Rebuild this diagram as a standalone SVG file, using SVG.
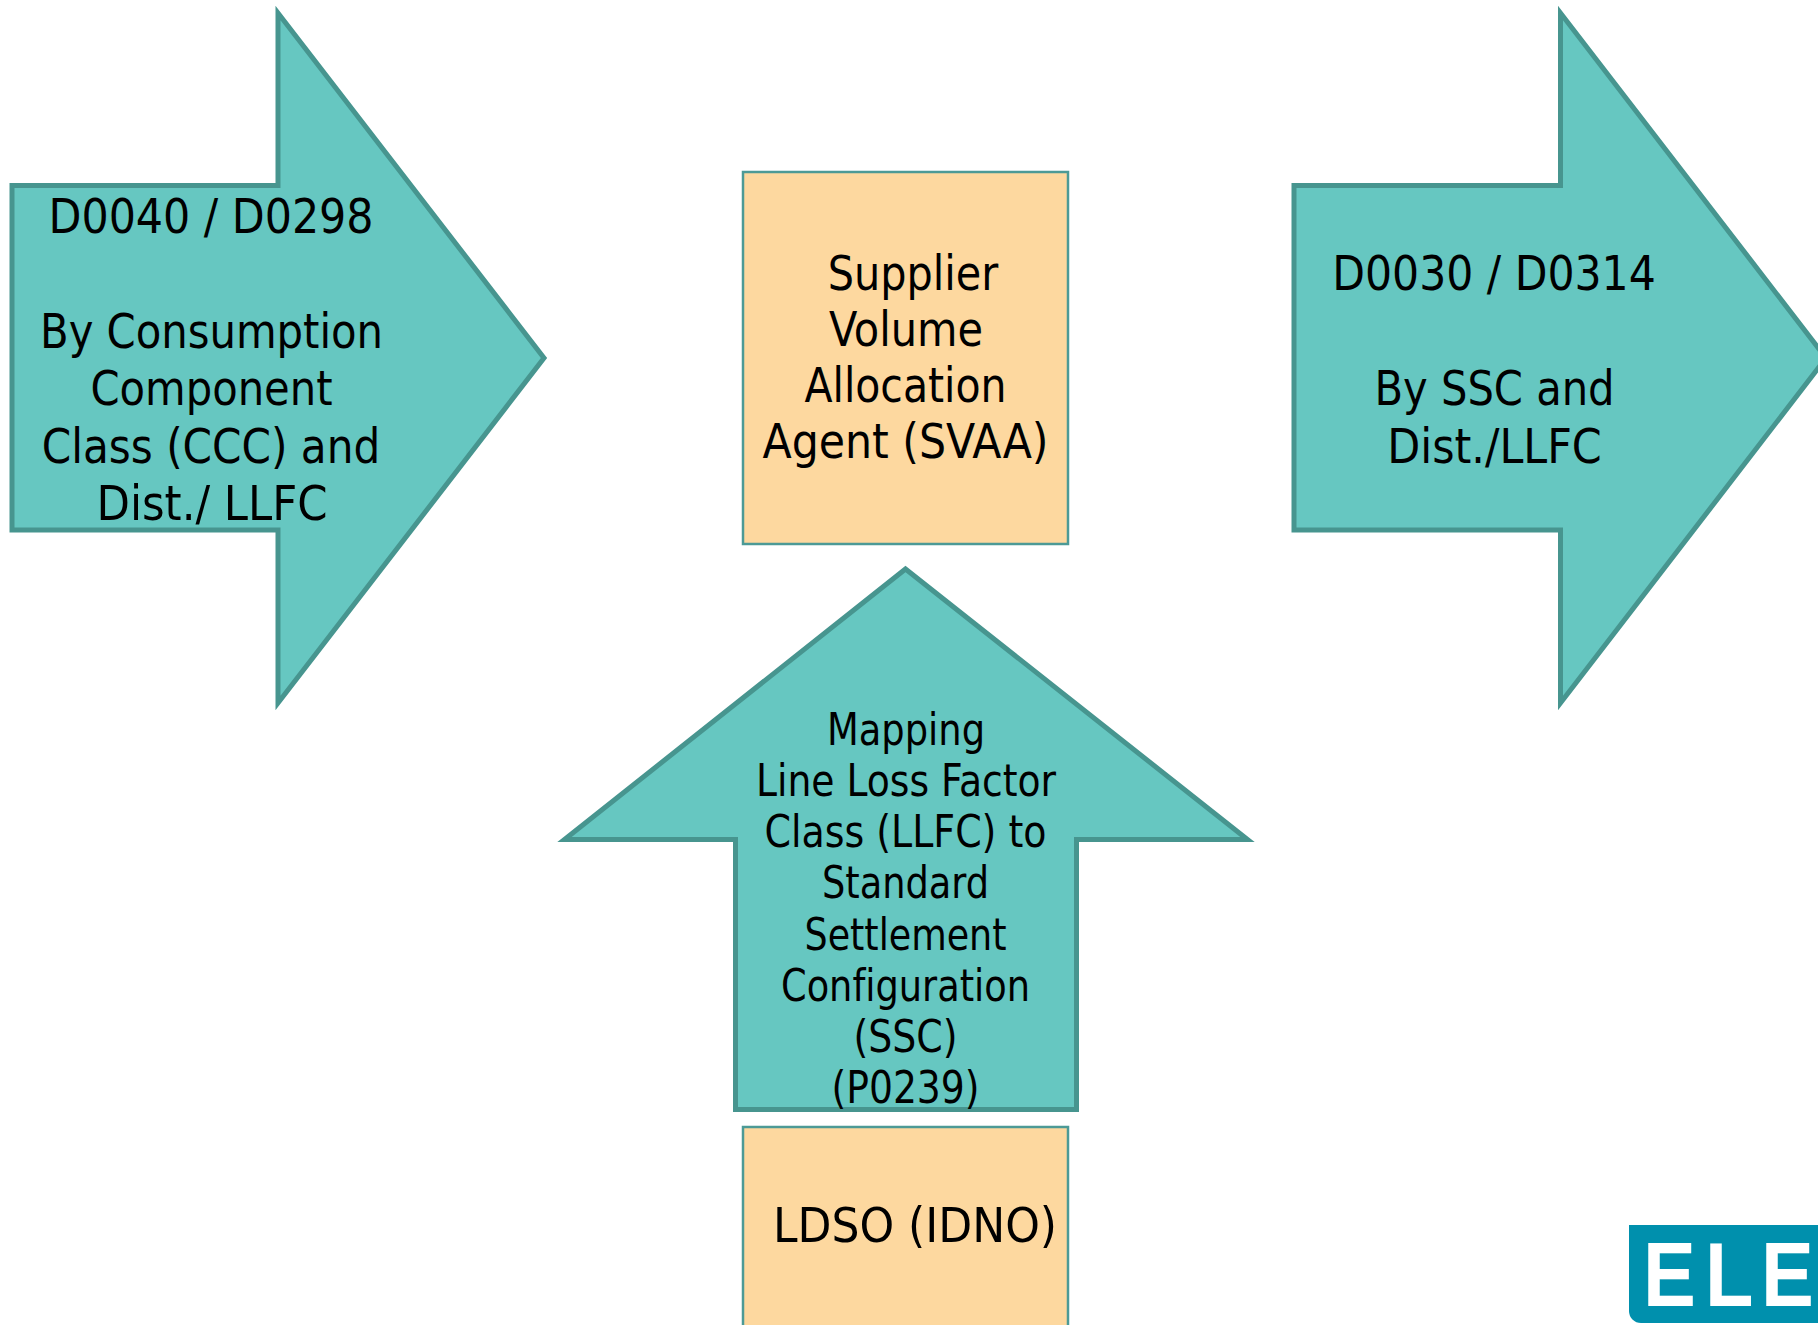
<svg xmlns="http://www.w3.org/2000/svg" width="1818" height="1325" viewBox="0 0 1818 1325">
<style>
.arrow{fill:#66c7c1;stroke:#47958f;stroke-width:5;stroke-miterlimit:10}
.box{fill:#fdd89f;stroke:#4c9a96;stroke-width:2.500}
text{font-family:"DejaVu Sans Condensed","DejaVu Sans",sans-serif;font-stretch:condensed;font-variant-ligatures:none;fill:#000;text-anchor:middle}
.l{font-size:48px}
.m{font-size:44px}
.logo{font-family:"Liberation Sans",sans-serif;font-stretch:normal;font-weight:700;font-size:90px;fill:#fff;text-anchor:start}
</style>
<rect width="1818" height="1325" fill="#fff"/>
<g id="arrow-d0040">
<polygon class="arrow" points="12,185.500 278,185.500 278,13 544,358 278,703 278,530 12,530"/>
<text class="l" x="211" y="233" textLength="325" lengthAdjust="spacingAndGlyphs">D0040 / D0298</text>
<text class="l" x="211.500" y="348" textLength="343" lengthAdjust="spacingAndGlyphs">By Consumption</text>
<text class="l" x="211.500" y="405" textLength="242" lengthAdjust="spacingAndGlyphs">Component</text>
<text class="l" x="211" y="463" textLength="338.500" lengthAdjust="spacingAndGlyphs">Class (CCC) and</text>
<text class="l" x="212" y="520" textLength="231" lengthAdjust="spacingAndGlyphs">Dist./ LLFC</text>
</g>
<g id="svaa">
<rect class="box" x="743" y="172" width="325" height="372"/>
<text class="l" x="913" y="290" textLength="170.500" lengthAdjust="spacingAndGlyphs">Supplier</text>
<text class="l" x="906" y="346" textLength="154" lengthAdjust="spacingAndGlyphs">Volume</text>
<text class="l" x="905.500" y="402" textLength="202" lengthAdjust="spacingAndGlyphs">Allocation</text>
<text class="l" x="905.500" y="458" textLength="286" lengthAdjust="spacingAndGlyphs">Agent (SVAA)</text>
</g>
<g id="arrow-d0030">
<polygon class="arrow" points="1294,185.500 1560.500,185.500 1560.500,13 1826,358 1560.500,703 1560.500,530 1294,530"/>
<text class="l" x="1494" y="290" textLength="323.500" lengthAdjust="spacingAndGlyphs">D0030 / D0314</text>
<text class="l" x="1494.500" y="405" textLength="240" lengthAdjust="spacingAndGlyphs">By SSC and</text>
<text class="l" x="1494.500" y="463" textLength="214.500" lengthAdjust="spacingAndGlyphs">Dist./LLFC</text>
</g>
<g id="arrow-mapping">
<polygon class="arrow" points="905.500,569 1247.500,839.500 1076.500,839.500 1076.500,1109.500 735.500,1109.500 735.500,839.500 564.500,839.500"/>
<text class="m" x="906" y="745" textLength="158" lengthAdjust="spacingAndGlyphs">Mapping</text>
<text class="m" x="906" y="796" textLength="300" lengthAdjust="spacingAndGlyphs">Line Loss Factor</text>
<text class="m" x="905.500" y="847" textLength="282" lengthAdjust="spacingAndGlyphs">Class (LLFC) to</text>
<text class="m" x="905.500" y="898" textLength="167" lengthAdjust="spacingAndGlyphs">Standard</text>
<text class="m" x="905.500" y="950" textLength="202" lengthAdjust="spacingAndGlyphs">Settlement</text>
<text class="m" x="905.500" y="1001" textLength="249" lengthAdjust="spacingAndGlyphs">Configuration</text>
<text class="m" x="905.500" y="1052" textLength="104" lengthAdjust="spacingAndGlyphs">(SSC)</text>
<text class="m" x="905.500" y="1103" textLength="148" lengthAdjust="spacingAndGlyphs">(P0239)</text>
</g>
<g id="ldso">
<rect class="box" x="743" y="1127" width="325" height="210"/>
<text class="l" x="915" y="1242" textLength="284" lengthAdjust="spacingAndGlyphs">LDSO (IDNO)</text>
</g>
<g id="logo">
<path d="M1629 1225H1830V1323H1641A12 12 0 0 1 1629 1311Z" fill="#0090ad"/>
<text class="logo" transform="translate(1643 1306) scale(.88 1)">E</text>
<text class="logo" transform="translate(1705 1306) scale(.88 1)">L</text>
<text class="logo" transform="translate(1761 1306) scale(.88 1)">E</text>
</g>
</svg>
